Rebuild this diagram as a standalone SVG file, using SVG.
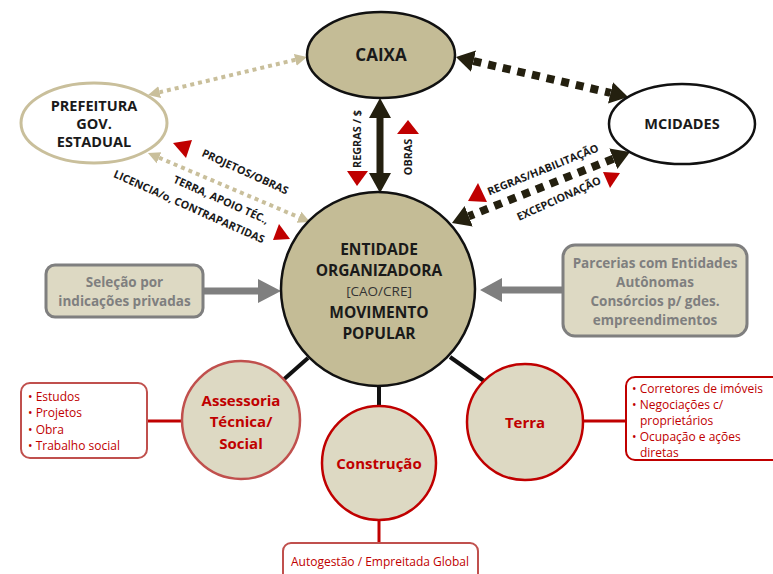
<svg xmlns="http://www.w3.org/2000/svg" width="773" height="574" viewBox="0 0 773 574">
<style>
text{font-family:"Open Sans","Noto Sans","Liberation Sans",sans-serif;text-anchor:middle;}
.b{font-weight:700;fill:#1a1a1a;}
.lbl{font-weight:700;font-size:10.8px;fill:#1a1a1a;}
.red{font-weight:700;fill:#c00000;font-size:15px;}
.item{font-size:12px;fill:#c00000;text-anchor:start;}
.gray{font-weight:700;fill:#7f7f7f;font-size:13.5px;}
.tri{fill:#c00000;}
.tan{stroke:#c9bf9b;stroke-width:4;stroke-dasharray:4 4;fill:none;}
.dark{stroke:#24200f;stroke-width:8;stroke-dasharray:8 7;fill:none;}
.blk{stroke:#111;stroke-width:4;}
.redl{stroke:#c00000;stroke-width:3;}
</style>
<defs>
<marker id="mt" markerUnits="userSpaceOnUse" viewBox="0 0 14 14" markerWidth="14" markerHeight="14" refX="0" refY="7" orient="auto-start-reverse"><path d="M0,1 L12,7 L0,13 z" fill="#c9bf9b"/></marker>
<marker id="md" markerUnits="userSpaceOnUse" viewBox="0 0 20 24" markerWidth="20" markerHeight="24" refX="0" refY="12" orient="auto-start-reverse"><path d="M0,1 L18,12 L0,23 z" fill="#24200f"/></marker>
</defs>

<g id="connectors">
<line class="tan" x1="295.3" y1="59.8" x2="159.7" y2="92.2" marker-start="url(#mt)" marker-end="url(#mt)"/>
<line class="tan" x1="159" y1="157.7" x2="299" y2="217.3" marker-start="url(#mt)" marker-end="url(#mt)"/>
<line class="dark" x1="473.5" y1="61.1" x2="610.5" y2="92.9" marker-start="url(#md)" marker-end="url(#md)"/>
<line class="dark" x1="613.3" y1="158.7" x2="468.7" y2="216.3" marker-start="url(#md)" marker-end="url(#md)"/>
<polygon points="380,98 391,118 383.5,118 383.5,173 391,173 380,193 369,173 376.5,173 376.5,118 369,118" fill="#24200f"/>
<polygon points="203,287.5 258,287.5 258,279 281,291 258,303 258,294.5 203,294.5" fill="#7f7f7f"/>
<polygon points="562,286.5 502,286.5 502,278 480,290 502,302 502,293.5 562,293.5" fill="#7f7f7f"/>
<line class="blk" x1="308" y1="358" x2="282" y2="381"/>
<line class="blk" x1="450" y1="357" x2="484" y2="381"/>
<line class="blk" x1="379" y1="385" x2="379" y2="407"/>
<line class="redl" x1="147" y1="421" x2="182" y2="421" stroke="#c0504d"/>
<line class="redl" x1="583" y1="421" x2="626" y2="421"/>
<line class="redl" x1="379" y1="520" x2="379" y2="543"/>
<polygon class="tri" points="173,143 192,140 186,158"/>
<polygon class="tri" points="273,240 279,224 290,239"/>
<polygon class="tri" points="468,201 478,183 487,202"/>
<polygon class="tri" points="603,172 620,173 610,188"/>
<polygon class="tri" points="347,171 368,171 357,186"/>
<polygon class="tri" points="397,134 419,134 408,120"/>
<text class="lbl" transform="translate(357,139) rotate(-90)" dy="3.5">REGRAS / $</text>
<text class="lbl" transform="translate(408,157) rotate(-90)" dy="3.5">OBRAS</text>
<text class="lbl" transform="translate(245,172) rotate(24.5)" dy="3.5">PROJETOS/OBRAS</text>
<text class="lbl" transform="translate(221,200) rotate(24)" dy="3.5">TERRA, APOIO TÉC.,</text>
<text class="lbl" transform="translate(189,207) rotate(24)" dy="3.5">LICENCIA/o, CONTRAPARTIDAS</text>
<text class="lbl" transform="translate(543,170) rotate(-22)" dy="3.5">REGRAS/HABILITAÇÃO</text>
<text class="lbl" transform="translate(559,199) rotate(-24.5)" dy="3.5">EXCEPCIONAÇÃO</text>
</g>

<g id="caixa">
<ellipse cx="381" cy="55" rx="74" ry="43" fill="#c4bc96" stroke="#111" stroke-width="2.5"/>
<text class="b" x="381" y="61" font-size="17">CAIXA</text>
</g>
<g id="prefeitura">
<ellipse cx="94" cy="123" rx="73" ry="40" fill="#fff" stroke="#c9bf9b" stroke-width="3"/>
<text class="b" font-size="14.5"><tspan x="94" y="111">PREFEITURA</tspan><tspan x="94" y="129">GOV.</tspan><tspan x="94" y="147">ESTADUAL</tspan></text>
</g>
<g id="mcidades">
<ellipse cx="682" cy="124" rx="73" ry="40" fill="#fff" stroke="#111" stroke-width="2.5"/>
<text class="b" x="682" y="129" font-size="14.5">MCIDADES</text>
</g>
<g id="entidade">
<circle cx="378" cy="289" r="97" fill="#c4bc96" stroke="#111" stroke-width="2.5"/>
<text class="b" font-size="15.5"><tspan x="379" y="255">ENTIDADE</tspan><tspan x="379" y="276">ORGANIZADORA</tspan><tspan x="379" y="296" font-weight="400" font-size="13.5" fill="#333">[CAO/CRE]</tspan><tspan x="379" y="318">MOVIMENTO</tspan><tspan x="379" y="339">POPULAR</tspan></text>
</g>
<g id="selecao">
<rect x="46" y="265" width="157" height="52" rx="9" fill="#ddd9c3" stroke="#7f7f7f" stroke-width="3"/>
<text class="gray"><tspan x="124.5" y="287">Seleção por</tspan><tspan x="124.5" y="306">indicações privadas</tspan></text>
</g>
<g id="parcerias">
<rect x="563" y="245" width="184" height="91" rx="12" fill="#ddd9c3" stroke="#7f7f7f" stroke-width="3"/>
<text class="gray"><tspan x="655" y="268">Parcerias com Entidades</tspan><tspan x="655" y="287">Autônomas</tspan><tspan x="655" y="306">Consórcios p/ gdes.</tspan><tspan x="655" y="325">empreendimentos</tspan></text>
</g>
<g id="assessoria">
<circle cx="241" cy="420" r="59" fill="#ddd9c3" stroke="#c0504d" stroke-width="2.5"/>
<text class="red"><tspan x="241" y="406">Assessoria</tspan><tspan x="241" y="427">Técnica/</tspan><tspan x="241" y="449">Social</tspan></text>
</g>
<g id="construcao">
<circle cx="379" cy="463" r="57" fill="#ddd9c3" stroke="#c00000" stroke-width="2.5"/>
<text class="red" x="379" y="469">Construção</text>
</g>
<g id="terra">
<circle cx="525" cy="422" r="58" fill="#ddd9c3" stroke="#c00000" stroke-width="2.5"/>
<text class="red" x="525" y="428">Terra</text>
</g>
<g id="lista-assessoria">
<rect x="21" y="383" width="126" height="75" rx="9" fill="#fff" stroke="#c0504d" stroke-width="2"/>
<text class="item"><tspan x="28" y="401">• Estudos</tspan><tspan x="28" y="417">• Projetos</tspan><tspan x="28" y="434">• Obra</tspan><tspan x="28" y="450">• Trabalho social</tspan></text>
</g>
<g id="lista-terra">
<rect x="626" y="377" width="160" height="83" rx="9" fill="#fff" stroke="#c00000" stroke-width="2"/>
<text class="item"><tspan x="632" y="393">• Corretores de imóveis</tspan><tspan x="632" y="409">• Negociações c/</tspan><tspan x="640" y="425">proprietários</tspan><tspan x="632" y="441">• Ocupação e ações</tspan><tspan x="640" y="457">diretas</tspan></text>
</g>
<g id="autogestao">
<rect x="283" y="543" width="195" height="45" rx="8" fill="#fff" stroke="#c0504d" stroke-width="2"/>
<text class="item" x="380" y="566" style="text-anchor:middle">Autogestão / Empreitada Global</text>
</g>
</svg>
